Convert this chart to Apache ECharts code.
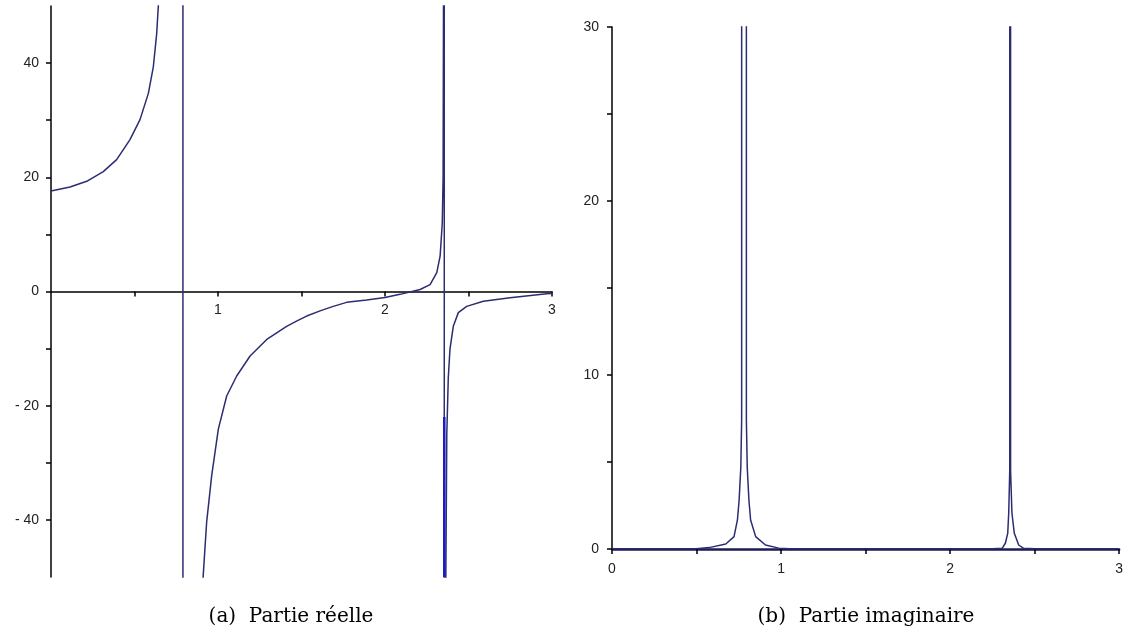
<!DOCTYPE html>
<html>
<head>
<meta charset="utf-8">
<script src="https://cdn.jsdelivr.net/npm/echarts@6/dist/echarts.min.js"></script>
<style>
  html, body { margin: 0; padding: 0; background: #fff; }
  #chart { width: 1126px; height: 635px; }
</style>
</head>
<body>
<div id="chart"></div>
<script>
// (a) partie réelle : x, valeur (les points hors cadre sont coupés par la grille)
const realX = [0, 0.014, 0.114, 0.214, 0.313, 0.393, 0.473, 0.533, 0.583, 0.613, 0.633, 0.643, 0.66,
  0.789, 0.791, 0.88, 0.912, 0.932, 0.962, 1.002, 1.052, 1.112, 1.192, 1.292, 1.411, 1.47, 1.531, 1.611,
  1.69, 1.77, 1.89, 2.0, 2.09, 2.21, 2.27, 2.31, 2.33, 2.343, 2.348, 2.351, 2.354, 2.356, 2.362, 2.37,
  2.379, 2.389, 2.409, 2.439, 2.489, 2.589, 2.749, 2.968, 3.0]
const realY = [17.6, 17.7, 18.3, 19.3, 21.0, 23.1, 26.6, 30.1, 34.7, 39.4, 45.2, 50.2, 60,
  3000, -3000, -70, -49.5, -40.4, -32.3, -24.1, -18.3, -14.8, -11.3, -8.4, -6.1, -5.2, -4.3, -3.4,
  -2.6, -1.9, -1.5, -1.05, -0.5, 0.35, 1.2, 3.3, 6.2, 12, 20, 60, 3000, -3000, -60, -25,
  -15.1, -10.1, -6.1, -3.7, -2.6, -1.7, -1.1, -0.4, -0.35]
// segment bleu superposé sous l'asymptote de droite
const realBlueX = [2.355, 2.355]
const realBlueY = [-22, -50]

// (b) partie imaginaire
const imagX = [0, 0.25, 0.497, 0.575, 0.673, 0.722, 0.742, 0.752, 0.762, 0.767, 0.781, 0.795, 0.8, 0.81, 0.82,
  0.85, 0.908, 0.987, 1.05, 1.5, 2.0, 2.25, 2.308, 2.327, 2.341, 2.347, 2.353, 2.3555, 2.358, 2.366, 2.38,
  2.406, 2.435, 2.5, 2.75, 3.0]
const imagY = [0.01, 0.02, 0.02, 0.08, 0.29, 0.71, 1.67, 2.8, 4.7, 7.4, 5000, 7.4, 4.7, 2.8, 1.67,
  0.71, 0.23, 0.05, 0.02, 0.01, 0.01, 0.02, 0.04, 0.33, 0.9, 2.07, 4.5, 5000, 4.5, 2.07, 0.9,
  0.23, 0.04, 0.02, 0.01, 0.01]

const realYTicks = [-40, -30, -20, -10, 0, 10, 20, 30, 40]
const realYLabels = [-40, -20, 0, 20, 40]
const realXTicks = [0.5, 1, 1.5, 2, 2.5, 3]
const realXLabels = [1, 2, 3]
const imagYLabels = [0, 10, 20, 30]
const imagXLabels = [0, 1, 2, 3]

const zip = (xs, ys) => xs.map((x, i) => [x, ys[i]])
const minusLabel = (v) => (v < 0 ? '- ' + -v : String(v))

const axisLineStyle = { color: '#000', width: 1.5 }
const labelStyle = { color: '#222', fontSize: 14, fontFamily: 'Liberation Sans, Arial, sans-serif' }
const captionStyle = { fontFamily: 'DejaVu Serif, serif', fontWeight: 'normal', fontSize: 20, color: '#000' }
const curveColor = '#2c2c72'

const chart = echarts.init(document.getElementById('chart'))
chart.setOption({
  animation: false,
  title: [
    { text: '(a)  Partie réelle', left: 286, top: 602, textAlign: 'center', textStyle: captionStyle },
    { text: '(b)  Partie imaginaire', left: 861, top: 602, textAlign: 'center', textStyle: captionStyle },
  ],
  grid: [
    { left: 51, top: 6, width: 501, height: 571 },
    { left: 612, top: 27, width: 511, height: 522 },
  ],
  xAxis: [
    {
      type: 'value', gridIndex: 0, min: 0, max: 3, offset: -285.5,
      axisLine: { onZero: false, lineStyle: axisLineStyle },
      axisTick: { length: 5, lineStyle: axisLineStyle, customValues: realXTicks },
      axisLabel: { ...labelStyle, margin: 12, customValues: realXLabels },
      splitLine: { show: false },
    },
    {
      type: 'value', gridIndex: 1, min: 0, max: 3, interval: 0.5,
      axisLine: { lineStyle: { color: '#1c1c55', width: 2.5 } },
      axisTick: { length: 5, lineStyle: axisLineStyle },
      axisLabel: { ...labelStyle, margin: 13, formatter: (v) => (imagXLabels.includes(v) ? String(v) : '') },
      splitLine: { show: false },
    },
  ],
  yAxis: [
    {
      type: 'value', gridIndex: 0, min: -50, max: 50,
      axisLine: { onZero: false, lineStyle: axisLineStyle },
      axisTick: { length: 5, lineStyle: axisLineStyle, customValues: realYTicks },
      axisLabel: { ...labelStyle, margin: 12, customValues: realYLabels, formatter: minusLabel },
      splitLine: { show: false },
    },
    {
      type: 'value', gridIndex: 1, min: 0, max: 30, interval: 5,
      axisLine: { onZero: false, lineStyle: axisLineStyle },
      axisTick: { length: 5, lineStyle: axisLineStyle },
      axisLabel: { ...labelStyle, margin: 13, formatter: (v) => (imagYLabels.includes(v) ? String(v) : '') },
      splitLine: { show: false },
    },
  ],
  series: [
    {
      name: 'réelle', type: 'line', xAxisIndex: 0, yAxisIndex: 0,
      data: zip(realX, realY), showSymbol: false, clip: true,
      lineStyle: { color: curveColor, width: 1.5 },
    },
    {
      name: 'réelle bleu', type: 'line', xAxisIndex: 0, yAxisIndex: 0,
      data: zip(realBlueX, realBlueY), showSymbol: false, clip: true,
      lineStyle: { color: '#1a1ac8', width: 2.5 },
    },
    {
      name: 'imaginaire', type: 'line', xAxisIndex: 1, yAxisIndex: 1,
      data: zip(imagX, imagY), showSymbol: false, clip: true,
      lineStyle: { color: curveColor, width: 1.5 },
    },
  ],
})
</script>
</body>
</html>
